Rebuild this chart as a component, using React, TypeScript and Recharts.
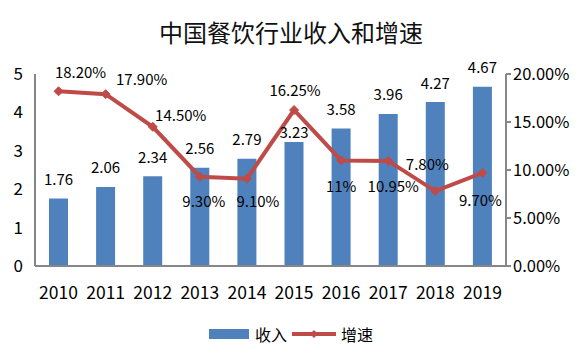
import React from 'react';
import { ComposedChart, Bar, Line, XAxis, YAxis, Legend, LabelList } from 'recharts';

const years = ['2010', '2011', '2012', '2013', '2014', '2015', '2016', '2017', '2018', '2019'];
const income = [1.76, 2.06, 2.34, 2.56, 2.79, 3.23, 3.58, 3.96, 4.27, 4.67];
const growth = [0.182, 0.179, 0.145, 0.093, 0.091, 0.1625, 0.11, 0.1095, 0.078, 0.097];
const growthLabels = ['18.20%', '17.90%', '14.50%', '9.30%', '9.10%', '16.25%', '11%', '10.95%', '7.80%', '9.70%'];
const incomeTicks = [0, 1, 2, 3, 4, 5];
const growthTicks = [0, 0.05, 0.1, 0.15, 0.2];

// label nudges
const growthLabelOffset: Array<[number, number]> = [
  [22, -20], [36, -16], [28, -12], [4, 24], [11, 22],
  [1, -21], [0, 25], [5, 25], [-8, -28], [-2, 27],
];
const incomeLabelDy = [-20, -20, -20, -20, -20, -10, -20, -20, -20, -20];

const data = years.map((year, i) => ({ year, income: income[i], growth: growth[i] }));

const FONT = '"Noto Sans CJK SC", "Noto Sans", sans-serif';
const BLUE = '#4F81BD';
const RED = '#BE4B48';
const GRAY = '#868686';

const IncomeLabel = (props: any) => {
  const { x, y, width, index } = props;
  return (
    <text x={x + width / 2} y={y + incomeLabelDy[index]} textAnchor="middle" dominantBaseline="central"
      fontSize={15} fill="#000" fontFamily={FONT}>
      {income[index].toFixed(2)}
    </text>
  );
};

const GrowthLabel = (props: any) => {
  const { x, y, index } = props;
  const [dx, dy] = growthLabelOffset[index];
  return (
    <text x={x + dx} y={y + dy} textAnchor="middle" dominantBaseline="central"
      fontSize={15} fill="#000" fontFamily={FONT}>
      {growthLabels[index]}
    </text>
  );
};

const Diamond = (props: any) => {
  const { cx, cy } = props;
  if (cx == null || cy == null) return null;
  const r = 4.5;
  return <path d={`M${cx},${cy - r}L${cx + r},${cy}L${cx},${cy + r}L${cx - r},${cy}Z`} fill={RED} stroke={RED} />;
};

const LegendContent = () => (
  <div style={{ display: 'flex', justifyContent: 'center', alignItems: 'center', fontFamily: FONT, fontSize: 16, color: '#000' }}>
    <svg width={40} height={12} style={{ marginRight: 6 }}>
      <rect x={0} y={1} width={40} height={10} fill={BLUE} />
    </svg>
    <span style={{ marginRight: 5 }}>收入</span>
    <svg width={44} height={12} style={{ marginRight: 5 }}>
      <line x1={0} y1={6} x2={44} y2={6} stroke={RED} strokeWidth={4} strokeLinecap="round" />
      <path d="M22,2L26,6L22,10L18,6Z" fill={RED} />
    </svg>
    <span>增速</span>
  </div>
);

export default function App() {
  return (
    <div style={{ position: 'absolute', left: 0, top: 0, width: 582, height: 361, background: '#fff' }}>
      <div style={{ position: 'absolute', left: 0, top: 14, width: 582, textAlign: 'center', fontFamily: FONT, fontSize: 24, color: '#111', lineHeight: '36px' }}>
        中国餐饮行业收入和增速
      </div>
      <ComposedChart width={582} height={361} data={data} margin={{ top: 74, right: 0, left: 0, bottom: 40 }}>
        <XAxis dataKey="year" height={25} axisLine={{ stroke: GRAY, strokeWidth: 2 }} tickLine={false}
          tickMargin={15} tick={{ fontSize: 17.5, fill: '#000', fontFamily: FONT }} />
        <YAxis yAxisId="left" width={35} domain={[0, 5]} ticks={incomeTicks} interval={0}
          axisLine={{ stroke: GRAY, strokeWidth: 2 }} tickLine={false} tickSize={6} tickMargin={6}
          tick={{ fontSize: 17, fill: '#000', fontFamily: FONT }} />
        <YAxis yAxisId="right" orientation="right" width={76} domain={[0, 0.2]} ticks={growthTicks} interval={0}
          axisLine={{ stroke: GRAY, strokeWidth: 2 }} tickLine={{ stroke: GRAY, strokeWidth: 2 }} tickSize={5} tickMargin={2}
          tickFormatter={(v: number) => (v * 100).toFixed(2) + '%'}
          tick={{ fontSize: 16.5, fill: '#000', fontFamily: FONT }} />
        <Legend verticalAlign="bottom" height={30} content={<LegendContent />} wrapperStyle={{ bottom: 9 }} />
        <Bar yAxisId="left" dataKey="income" name="收入" fill={BLUE} barSize={19} isAnimationActive={false}>
          <LabelList dataKey="income" content={<IncomeLabel />} />
        </Bar>
        <Line yAxisId="right" dataKey="growth" name="增速" stroke={RED} strokeWidth={4} dot={<Diamond />}
          activeDot={false} isAnimationActive={false}>
          <LabelList dataKey="growth" content={<GrowthLabel />} />
        </Line>
      </ComposedChart>
    </div>
  );
}
